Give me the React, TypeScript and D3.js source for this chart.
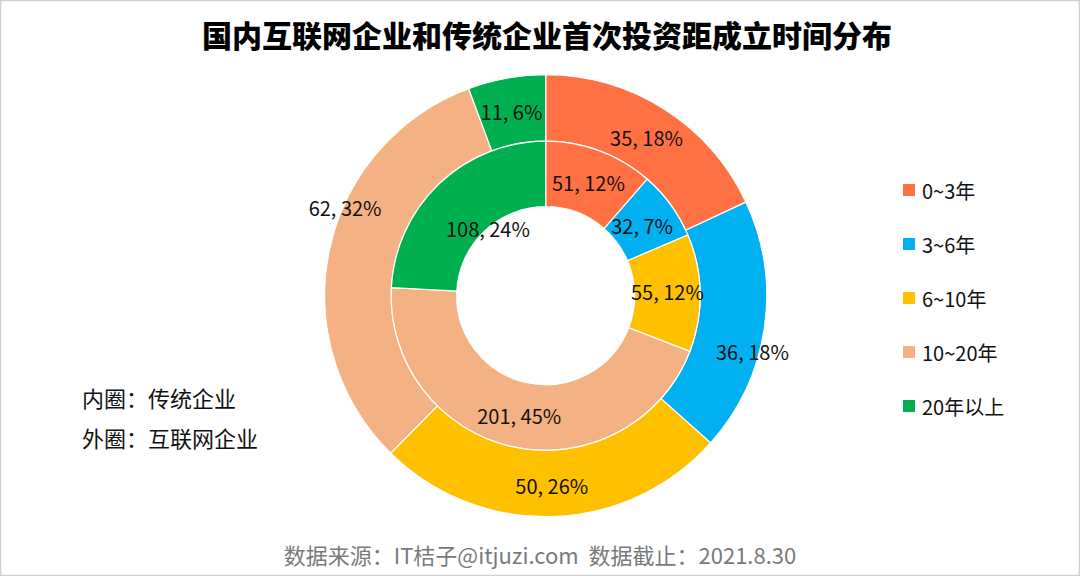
import React from "react";
import * as d3 from "d3";

const categories = ["0~3年", "3~6年", "6~10年", "10~20年", "20年以上"];
const outerValues = [35, 36, 50, 62, 11]; // 互联网企业
const outerPct = [18, 18, 26, 32, 6];
const innerValues = [51, 32, 55, 201, 108]; // 传统企业
const innerPct = [12, 7, 12, 45, 24];
const colors = ["#FF7043", "#00B0F0", "#FFC000", "#F4B183", "#00B050"];

// label nudges (px) relative to arc centroid
const outerNudge: [number, number][] = [[0, 0], [21, 29], [0, 2], [-17, -49], [-1, 1]];
const innerNudge: [number, number][] = [[0, 1], [-2, 1], [0, -2], [-1, 1], [26, 21]];

const W = 1080;
const H = 576;
const cx = 545.7;
const cy = 295.7;
const R_OUT = 221;
const R_MID = 154.5;
const R_IN = 89;
const FONT = "'Noto Sans CJK SC', 'Noto Sans', sans-serif";

function Ring({ values, pcts, r0, r1, nudge }: { values: number[]; pcts: number[]; r0: number; r1: number; nudge: [number, number][] }) {
  const pie = d3.pie<number>().sort(null).value((d) => d);
  const arcs = pie(values);
  const arc = d3.arc<d3.PieArcDatum<number>>().innerRadius(r0).outerRadius(r1);
  return (
    <g>
      {arcs.map((a, i) => (
        <path key={"p" + i} d={arc(a) || ""} fill={colors[i]} stroke="#fff" strokeWidth={1.2} />
      ))}
      {arcs.map((a, i) => {
        const [x, y] = arc.centroid(a);
        return (
          <text
            key={"t" + i}
            x={x + nudge[i][0]}
            y={y + nudge[i][1]}
            textAnchor="middle"
            dominantBaseline="central"
            fontSize={20}
            fill="#111"
            fontFamily={FONT}
          >
            {`${a.data}, ${pcts[i]}%`}
          </text>
        );
      })}
    </g>
  );
}

export default function App() {
  const legendY = d3.scaleBand<string>().domain(categories).range([163, 433]);
  return (
    <div style={{ position: "absolute", left: 0, top: 0 }}>
      <svg width={W} height={H} style={{ display: "block", background: "#fff" }}>
        <rect x={0.5} y={0.5} width={W - 1} height={H - 1} fill="#fff" stroke="#cfcfcf" strokeWidth={1.5} />
        <text
          x={547}
          y={34}
          textAnchor="middle"
          dominantBaseline="central"
          fontSize={30}
          fontWeight={900}
          fill="#000"
          fontFamily={FONT}
        >
          国内互联网企业和传统企业首次投资距成立时间分布
        </text>
        <g transform={`translate(${cx},${cy})`}>
          <Ring values={outerValues} pcts={outerPct} r0={R_MID} r1={R_OUT} nudge={outerNudge} />
          <Ring values={innerValues} pcts={innerPct} r0={R_IN} r1={R_MID} nudge={innerNudge} />
        </g>
        {categories.map((c, i) => {
          const y = (legendY(c) || 0) + legendY.bandwidth() / 2;
          return (
            <g key={c}>
              <rect x={903} y={y - 6} width={12} height={12} fill={colors[i]} />
              <text x={922} y={y} dominantBaseline="central" fontSize={20} fill="#111" fontFamily={FONT}>
                {c}
              </text>
            </g>
          );
        })}
        <text x={82} y={397} dominantBaseline="central" fontSize={22} fill="#111" fontFamily={FONT}>
          内圈：传统企业
        </text>
        <text x={82} y={437} dominantBaseline="central" fontSize={22} fill="#111" fontFamily={FONT}>
          外圈：互联网企业
        </text>
        <text x={540} y={554} textAnchor="middle" dominantBaseline="central" fontSize={22} fill="#7a7a7a" fontFamily={FONT} style={{ whiteSpace: "pre" }}>
          {"数据来源：IT桔子@itjuzi.com  数据截止：2021.8.30"}
        </text>
      </svg>
    </div>
  );
}
